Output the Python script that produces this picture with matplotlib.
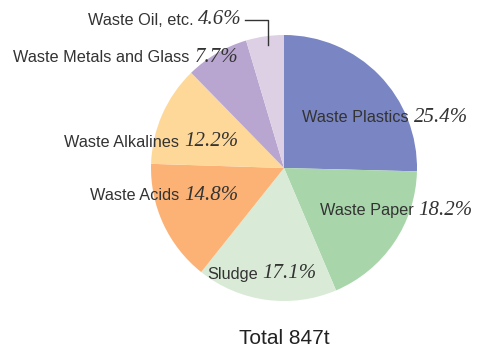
import matplotlib
matplotlib.use("Agg")
import matplotlib.pyplot as plt

categories = ["Waste Plastics", "Waste Paper", "Sludge", "Waste Acids",
              "Waste Alkalines", "Waste Metals and Glass", "Waste Oil, etc."]
shares = [25.4, 18.2, 17.1, 14.8, 12.2, 7.7, 4.6]
total_label = "Total 847t"

colors = ["#7a86c3", "#a8d6aa", "#d9ebd6", "#fcb275", "#fed898", "#b9a6d0", "#ddd0e5"]

W, H = 480, 350
fig = plt.figure(figsize=(W / 100, H / 100), dpi=100)
ax = fig.add_axes([0, 0, 1, 1])

cx, cy, r = 284, H - 168, 133
ax.pie(shares, colors=colors, startangle=90, counterclock=False,
       center=(cx, cy), radius=r, frame=True,
       wedgeprops=dict(linewidth=0))
ax.set_xlim(0, W)
ax.set_ylim(0, H)
ax.set_aspect("auto")
ax.axis("off")

name_font = dict(family=["Liberation Sans", "DejaVu Sans"], size=11.7, color="#333333")
pct_font = dict(family=["Liberation Serif", "DejaVu Serif"], style="italic", size=15, color="#333333")

# label anchor: (x, y_from_top, align) ; 'left' => x is start of name, 'right' => x is end of pct
label_pos = [(302, 118, "left"), (320, 211, "left"), (207, 274, "left"),
             (238, 195, "right"), (238, 142, "right"), (238, 57, "right"), (242, 20, "right")]

for name, val, (x, y, al) in zip(categories, shares, label_pos):
    pct = f"{val:.1f}%"
    if al == "left":
        t = ax.text(x, H - y, name, ha="left", va="center", **name_font)
        ax.annotate(pct, xy=(1, 0.5), xycoords=t, xytext=(3.5, 0.5), textcoords="offset points",
                    ha="left", va="center", **pct_font)
    else:
        t = ax.text(x, H - y, pct, ha="right", va="center", **pct_font)
        ax.annotate(name, xy=(0, 0.5), xycoords=t, xytext=(-3.5, -0.5), textcoords="offset points",
                    ha="right", va="center", **name_font)

# leader line for Waste Oil
ax.plot([245, 268, 268], [H - 20, H - 20, H - 45], color="#333333", lw=1)

ax.text(284, H - 338, total_label, ha="center", va="center",
        family=["Liberation Sans", "DejaVu Sans"], size=15, color="#222222")

fig.savefig("out.png", dpi=100)
